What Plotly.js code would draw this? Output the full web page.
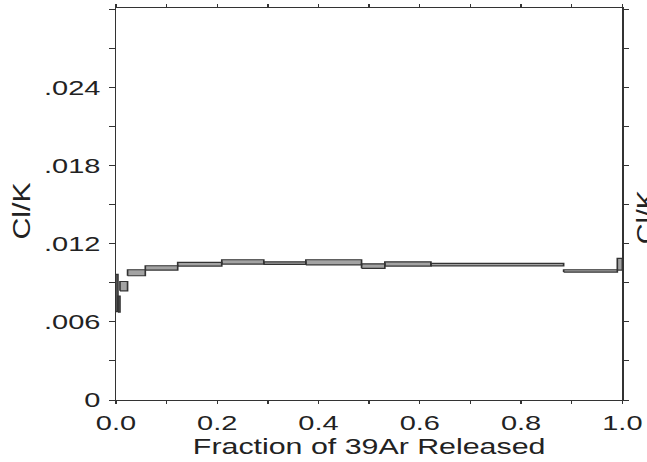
<!DOCTYPE html>
<html>
<head>
<meta charset="utf-8">
<script src="https://cdn.plot.ly/plotly-3.0.1.min.js"></script>
<style>
  html, body { margin: 0; padding: 0; background: #fff; overflow: hidden; }
  #wrap { width: 647px; height: 462px; overflow: hidden; }
  #plot { width: 469px; height: 462px; transform: scaleX(1.38); transform-origin: 0 0; }
</style>
</head>
<body>
<div id="wrap"><div id="plot"></div></div>
<script>
// Cumulative fraction of 39Ar released (step boundaries)
const fracEdges = [0, 0.004, 0.008, 0.023, 0.058, 0.122, 0.209, 0.292, 0.375, 0.485, 0.531, 0.622, 0.884, 0.990, 1.0];
// Cl/K lower and upper bounds of each step box
const clkLow  = [0.00678, 0.00675, 0.00838, 0.00954, 0.00998, 0.01028, 0.01044, 0.01041, 0.01038, 0.01011, 0.01028, 0.01030, 0.00982, 0.00998];
const clkHigh = [0.00964, 0.00798, 0.00910, 0.01000, 0.01031, 0.01057, 0.01077, 0.01061, 0.01077, 0.01046, 0.01061, 0.01049, 0.01000, 0.01087];
// Tick labels
const xTickVals = [0, 0.2, 0.4, 0.6, 0.8, 1.0];
const xTickText = ['0.0', '0.2', '0.4', '0.6', '0.8', '1.0'];
const yTickVals = [0, 0.006, 0.012, 0.018, 0.024];
const yTickText = ['0', '.006', '.012', '.018', '.024'];

const SX = 1.38; // horizontal stretch of the whole figure

const bx = [], by = [];
for (let i = 0; i < clkLow.length; i++) {
  const x0 = fracEdges[i], x1 = fracEdges[i + 1];
  bx.push(x0, x1, x1, x0, x0, null);
  by.push(clkLow[i], clkLow[i], clkHigh[i], clkHigh[i], clkLow[i], null);
}

const font = 'Liberation Sans, Arial, sans-serif';
const data = [{
  type: 'scatter', mode: 'lines', x: bx, y: by,
  fill: 'toself', fillcolor: '#a3a3a3',
  line: { color: '#333', width: 1.2 },
  hoverinfo: 'skip', showlegend: false
}];

const layout = {
  width: 469, height: 462,
  margin: { l: 84, r: 18, t: 8, b: 62 },
  paper_bgcolor: '#fff', plot_bgcolor: '#fff',
  font: { family: font, color: '#222' },
  showlegend: false,
  xaxis: {
    range: [0, 1], tickvals: xTickVals, ticktext: xTickText,
    ticks: 'outside', ticklen: 3, tickwidth: 1, tickcolor: '#333',
    minor: { dtick: 0.1, tick0: 0, ticks: 'outside', ticklen: 3, tickcolor: '#333' },
    showline: true, linecolor: '#333', linewidth: 1, mirror: 'ticks',
    showgrid: false, zeroline: false, ticklabelstandoff: 1,
    tickfont: { size: 21, family: font, color: '#222' },
    title: { text: 'Fraction of 39Ar Released', font: { size: 22, family: font, color: '#222' }, standoff: 4 }
  },
  yaxis: {
    range: [0, 0.0301], tickvals: yTickVals, ticktext: yTickText,
    ticks: 'outside', ticklen: 4, tickwidth: 1, tickcolor: '#333',
    minor: { dtick: 0.003, tick0: 0, ticks: 'outside', ticklen: 4, tickcolor: '#333' },
    showline: true, linecolor: '#333', linewidth: 1, mirror: 'ticks',
    showgrid: false, zeroline: false, ticklabelstandoff: 2,
    tickfont: { size: 21, family: font, color: '#222' },
    title: { text: 'Cl/K', font: { size: 24, family: font, color: '#222' }, standoff: 6 }
  },
  annotations: [{
    xref: 'paper', yref: 'paper', x: 1.046, y: 0.467, textangle: -90,
    text: 'Cl/K', showarrow: false, xanchor: 'center', yanchor: 'middle',
    font: { size: 24, family: font, color: '#222' }
  }]
};

// stretch rotated labels along their length / thin them across, about their centre
function reshape(el, a, b) {
  if (!el) return;
  const bb = el.getBBox();
  const cx = bb.x + bb.width / 2, cy = bb.y + bb.height / 2;
  const t = el.getAttribute('transform') || '';
  el.setAttribute('transform', t + ` translate(${cx},${cy}) scale(${a},${b}) translate(${-cx},${-cy})`);
}

Plotly.newPlot('plot', data, layout, { staticPlot: true, displayModeBar: false }).then(gd => {
  const yt = gd.querySelector('.ytitle');
  reshape(yt, 1.26, 0.72);
  if (yt) {
    const r = yt.getBoundingClientRect();
    const dx = (21.5 - (r.left + r.width / 2)) / SX;
    const dy = 211 - (r.top + r.height / 2);
    yt.setAttribute('transform', `translate(${dx},${dy}) ` + yt.getAttribute('transform'));
  }
  reshape(gd.querySelector('.annotation-text'), 1.2, 0.72);
});
</script>
</body>
</html>
